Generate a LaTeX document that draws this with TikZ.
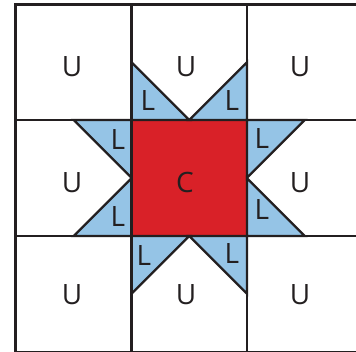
\documentclass[tikz,border=0pt]{standalone}
\usepackage{fontspec}
\setmainfont{Open Sans}
\definecolor{redc}{HTML}{D92128}
\definecolor{bluec}{HTML}{95C4E6}
\definecolor{ink}{HTML}{231F20}
\begin{document}
\begin{tikzpicture}[x=1pt,y=-1pt,
  lbl/.style={text=ink, font=\fontsize{28}{28}\selectfont, inner sep=0pt},
  gridline/.style={draw=ink, line width=2.7pt},
  tri/.style={fill=bluec, draw=ink, line width=2.3pt, line join=miter}]
\useasboundingbox (0,0) rectangle (356,351);
\clip (0,0) rectangle (356,351);
% centre square
\fill[redc] (131.5,120) rectangle (247,236);
% blue triangles
\filldraw[tri] (131.5,120) -- (131.5,62.25) -- (189.25,120) -- cycle;
\filldraw[tri] (247,120) -- (247,62.25) -- (189.25,120) -- cycle;
\filldraw[tri] (131.5,120) -- (73.75,120) -- (131.5,177.75) -- cycle;
\filldraw[tri] (131.5,236) -- (73.75,236) -- (131.5,178.25) -- cycle;
\filldraw[tri] (247,120) -- (304.75,120) -- (247,177.75) -- cycle;
\filldraw[tri] (247,236) -- (304.75,236) -- (247,178.25) -- cycle;
\filldraw[tri] (131.5,236) -- (131.5,293.75) -- (189.25,236) -- cycle;
\filldraw[tri] (247,236) -- (247,293.75) -- (189.25,236) -- cycle;
% grid
\draw[gridline] (15.5,4.5) rectangle (358,352);
\draw[gridline] (131.5,4.5) -- (131.5,352);
\draw[gridline] (247,4.5) -- (247,352);
\draw[gridline] (15.5,120) -- (358,120);
\draw[gridline] (15.5,236) -- (358,236);
% labels
\node[lbl] (u11) at (72,67) {U};
\node[lbl] (u12) at (186,67) {U};
\node[lbl] (u13) at (300,67) {U};
\node[lbl] (u21) at (72,183) {U};
\node[lbl] (c22) at (185,182) {C};
\node[lbl] (u23) at (300,183) {U};
\node[lbl] (u31) at (72,295) {U};
\node[lbl] (u32) at (186,295) {U};
\node[lbl] (u33) at (300,295) {U};
\node[lbl] (l1) at (148,101) {L};
\node[lbl] (l2) at (232,101) {L};
\node[lbl] (l3) at (118,139.5) {L};
\node[lbl] (l4) at (118,217) {L};
\node[lbl] (l5) at (262,138.5) {L};
\node[lbl] (l6) at (262,209.5) {L};
\node[lbl] (l7) at (144,256) {L};
\node[lbl] (l8) at (232,253.5) {L};
\end{tikzpicture}
\end{document}
